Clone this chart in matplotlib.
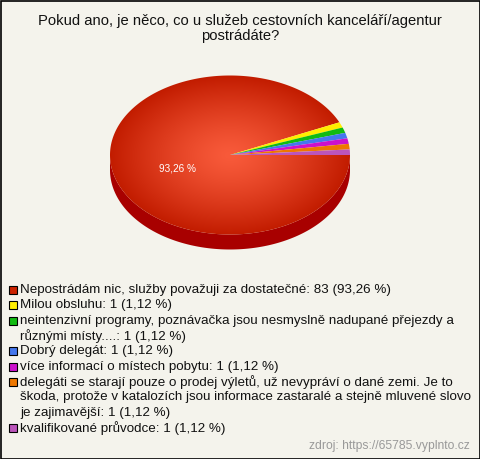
import numpy as np
import matplotlib
matplotlib.use("Agg")
import matplotlib.pyplot as plt
from matplotlib.patches import Polygon, Rectangle

# ---- data ----
labels = [
    "Nepostrádám nic, služby považuji za dostatečné: 83 (93,26 %)",
    "Milou obsluhu: 1 (1,12 %)",
    "neintenzivní programy, poznávačka jsou nesmyslně nadupané přejezdy a\nrůznými místy....: 1 (1,12 %)",
    "Dobrý delegát: 1 (1,12 %)",
    "více informací o místech pobytu: 1 (1,12 %)",
    "delegáti se starají pouze o prodej výletů, už nevypráví o dané zemi. Je to\nškoda, protože v katalozích jsou informace zastaralé a stejně mluvené slovo\nje zajimavější: 1 (1,12 %)",
    "kvalifikované průvodce: 1 (1,12 %)",
]
counts = [83, 1, 1, 1, 1, 1, 1]
colors = ["#CC2200", "#FFEE00", "#11BB11", "#4477EE", "#CC11CC", "#EE7700", "#BB55BB"]
title = "Pokud ano, je něco, co u služeb cestovních kanceláří/agentur\npostrádáte?"
source = "zdroj: https://65785.vyplnto.cz"

plt.rcParams['font.family'] = ['Liberation Sans', 'DejaVu Sans']
W, H = 480, 459
fig = plt.figure(figsize=(W / 100, H / 100), dpi=100)
bg = "#F4F3EC"
fig.patch.set_facecolor(bg)
ax = fig.add_axes([0, 0, 1, 1])
ax.set_xlim(0, W)
ax.set_ylim(H, 0)
ax.axis("off")

# pie geometry
cx, cy, rx, ry, depth = 230, 155, 120, 79.5, 15
vals = np.array(counts, dtype=float)
fr = vals / vals.sum()
edges = np.concatenate([[0], np.cumsum(fr)]) * 2 * np.pi

# side wall (front half)
t = np.linspace(0, np.pi, 200)
top = np.column_stack([cx + rx * np.cos(t), cy + ry * np.sin(t)])
bot = np.column_stack([cx + rx * np.cos(t[::-1]), cy + depth + ry * np.sin(t[::-1])])
ax.add_patch(Polygon(np.vstack([top, bot]), closed=True, facecolor="#A80000",
                     edgecolor="none", zorder=1))

# radial gradient for the big slice
xs = np.linspace(0, W, W)
ys = np.linspace(0, H, H)
X, Y = np.meshgrid(xs, ys)
R = np.sqrt(((X - cx) / rx) ** 2 + ((Y - cy) / ry) ** 2)
R = np.clip(R, 0, 1)
c0 = np.array([0xF8, 0x5A, 0x3A]) / 255
c1 = np.array([0xC2, 0x1C, 0x00]) / 255
img = c0[None, None, :] * (1 - R[..., None] ** 1.3) + c1[None, None, :] * (R[..., None] ** 1.3)

for i, (a0, a1) in enumerate(zip(edges[:-1], edges[1:])):
    tt = np.linspace(a0, a1, max(int((a1 - a0) * 60), 3))
    pts = np.vstack([[cx, cy], np.column_stack([cx + rx * np.cos(tt), cy + ry * np.sin(tt)])])
    if i == 0:
        poly = Polygon(pts, closed=True, facecolor="none", edgecolor="none")
        ax.add_patch(poly)
        im = ax.imshow(img, extent=(0, W, H, 0), zorder=2, interpolation="bilinear")
        im.set_clip_path(poly)
    else:
        ax.add_patch(Polygon(pts, closed=True, facecolor=colors[i], edgecolor="none", zorder=3))

# percentage label for the big slice
mid = (edges[0] + edges[1]) / 2
ax.text(cx + 0.45 * rx * np.cos(mid), cy + 0.45 * ry * np.sin(mid) + 6,
        f"{fr[0]*100:.2f} %".replace(".", ","), color="white", fontsize=7.2,
        ha="center", va="center", zorder=5)

# title
ax.text(240, 28.5, title, ha="center", va="center", fontsize=10.6, color="#111111",
        linespacing=1.08)

# legend
y = 290
lh = 15.33
for lab, col in zip(labels, colors):
    ax.add_patch(Rectangle((9, y - 4), 8, 8, facecolor=col, edgecolor="black", lw=0.8, zorder=4))
    for ln in lab.split("\n"):
        ax.text(20, y, ln, ha="left", va="center", fontsize=9.6, color="#111111")
        y += lh

ax.text(470, 446, source, ha="right", va="center", fontsize=8.7, color="#999999")

# border
ax.add_patch(Rectangle((0.5, 0.5), W - 1, H - 1, facecolor="none", edgecolor="black", lw=1.2, zorder=10))

fig.savefig("out.png", dpi=100, facecolor=bg)
